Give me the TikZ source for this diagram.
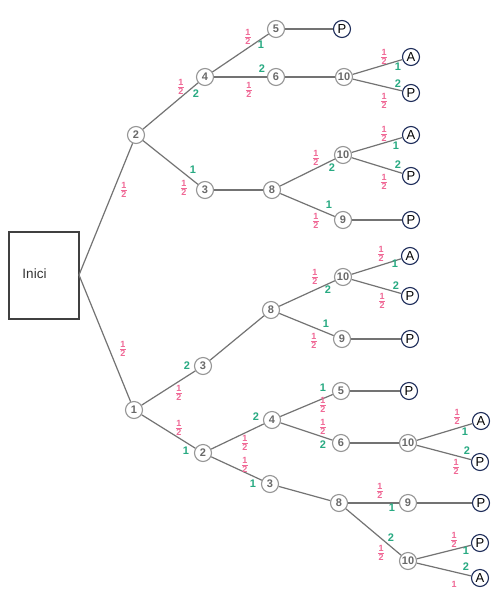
\documentclass[tikz,border=0pt]{standalone}
\usepackage{fontspec}
\setmainfont{Liberation Sans}
\definecolor{pinkc}{RGB}{240,105,150}
\definecolor{greenc}{RGB}{40,170,130}
\definecolor{edgec}{RGB}{115,115,115}
\definecolor{nodec}{RGB}{150,150,150}
\definecolor{numc}{RGB}{105,105,105}
\definecolor{navyc}{RGB}{30,45,90}
\newcommand{\hf}{\vbox{\offinterlineskip\halign{\hfil##\hfil\cr 1\cr\noalign{\kern1.1pt}\rule{5.5pt}{0.8pt}\cr\noalign{\kern1.1pt}2\cr}}}
\begin{document}
\begin{tikzpicture}[x=1pt,y=-1pt,
  st/.style={circle,draw=nodec,line width=1.1pt,fill=white,minimum size=17pt,inner sep=0pt,
    font=\fontsize{11}{11}\selectfont\bfseries,text=numc},
  term/.style={circle,draw=navyc,line width=1.1pt,fill=white,minimum size=17pt,inner sep=0pt,
    font=\fontsize{13}{13}\selectfont,text=black},
  ed/.style={draw=edgec,line width=1.2pt},
  pf/.style={text=pinkc,inner sep=0pt,font=\fontsize{9}{9}\selectfont\bfseries},
  gn/.style={text=greenc,inner sep=0pt,font=\fontsize{11}{11}\selectfont\bfseries}]
\useasboundingbox (0,0) rectangle (503,603);
\fill[white] (0,0) rectangle (503,603);
% start box
\node[draw=black!75,line width=1.2pt,minimum width=70pt,minimum height=87pt,inner sep=0pt] (ini) at (44,275.5) {};
\node[inner sep=0pt,font=\fontsize{13.5}{13.5}\selectfont,text=black!80] (initext) at (34.5,274) {Inici};
\coordinate (o) at (79,275);
% upper tree
\node[st] (u2) at (136,135) {2};
\node[st] (u4) at (205,77) {4};
\node[st] (u5) at (276,29) {5};
\node[st] (u6) at (276,77) {6};
\node[term] (uP1) at (342,29) {P};
\node[st] (u10a) at (344,77) {10};
\node[term] (uA1) at (411,57) {A};
\node[term] (uP2) at (411,93) {P};
\node[st] (u3) at (205,190) {3};
\node[st] (u8) at (272,190) {8};
\node[st] (u10b) at (343,155) {10};
\node[term] (uA2) at (411,135) {A};
\node[term] (uP3) at (411,176) {P};
\node[st] (u9) at (343,220) {9};
\node[term] (uP4) at (411,220) {P};
% lower tree
\node[st] (l1) at (134,410) {1};
\node[st] (l3) at (203,366) {3};
\node[st] (l8) at (271,310) {8};
\node[st] (l10c) at (343,277) {10};
\node[term] (lA1) at (410,256) {A};
\node[term] (lP1) at (410,296) {P};
\node[st] (l9) at (342,339) {9};
\node[term] (lP2) at (410,339) {P};
\node[st] (l2) at (203,453) {2};
\node[st] (l4) at (272,420) {4};
\node[st] (l5) at (341,391) {5};
\node[term] (lP3) at (409,391) {P};
\node[st] (l6) at (341,443) {6};
\node[st] (l10d) at (408,443) {10};
\node[term] (lA2) at (481,421) {A};
\node[term] (lP4) at (480,462) {P};
\node[st] (l3b) at (270,484) {3};
\node[st] (l8b) at (339,503) {8};
\node[st] (l9b) at (408,503) {9};
\node[term] (lP5) at (481,503) {P};
\node[st] (l10e) at (408,561) {10};
\node[term] (lP6) at (480,543) {P};
\node[term] (lA3) at (480,578) {A};
% edges
\draw[ed] (o) -- (u2);
\draw[ed] (o) -- (l1);
\draw[ed] (u2) -- (u4);
\draw[ed] (u4) -- (u5);
\draw[ed] (u4) -- (u6);
\draw[ed] (u5) -- (uP1);
\draw[ed] (u6) -- (u10a);
\draw[ed] (u10a) -- (uA1);
\draw[ed] (u10a) -- (uP2);
\draw[ed] (u2) -- (u3);
\draw[ed] (u3) -- (u8);
\draw[ed] (u8) -- (u10b);
\draw[ed] (u10b) -- (uA2);
\draw[ed] (u10b) -- (uP3);
\draw[ed] (u8) -- (u9);
\draw[ed] (u9) -- (uP4);
\draw[ed] (l1) -- (l3);
\draw[ed] (l3) -- (l8);
\draw[ed] (l8) -- (l10c);
\draw[ed] (l10c) -- (lA1);
\draw[ed] (l10c) -- (lP1);
\draw[ed] (l8) -- (l9);
\draw[ed] (l9) -- (lP2);
\draw[ed] (l1) -- (l2);
\draw[ed] (l2) -- (l4);
\draw[ed] (l4) -- (l5);
\draw[ed] (l5) -- (lP3);
\draw[ed] (l4) -- (l6);
\draw[ed] (l6) -- (l10d);
\draw[ed] (l10d) -- (lA2);
\draw[ed] (l10d) -- (lP4);
\draw[ed] (l2) -- (l3b);
\draw[ed] (l3b) -- (l8b);
\draw[ed] (l8b) -- (l9b);
\draw[ed] (l9b) -- (lP5);
\draw[ed] (l8b) -- (l10e);
\draw[ed] (l10e) -- (lP6);
\draw[ed] (l10e) -- (lA3);
% labels upper
\node[pf] (a1) at (124,190) {\hf};
\node[pf] (a2) at (181,87) {\hf};
\node[gn] (a3) at (196,94) {2};
\node[pf] (a4) at (248,37) {\hf};
\node[gn] (a5) at (261,45) {1};
\node[gn] (a6) at (262,69) {2};
\node[pf] (a7) at (249,90) {\hf};
\node[gn] (a8) at (193,170) {1};
\node[pf] (a9) at (184,188) {\hf};
\node[pf] (a10) at (384,57) {\hf};
\node[gn] (a11) at (398,67) {1};
\node[gn] (a12) at (398,84) {2};
\node[pf] (a13) at (384,101) {\hf};
\node[pf] (a14) at (316,158) {\hf};
\node[gn] (a15) at (332,168) {2};
\node[pf] (a16) at (384,134) {\hf};
\node[gn] (a17) at (396,146) {1};
\node[gn] (a18) at (398,165) {2};
\node[pf] (a19) at (384,182) {\hf};
\node[gn] (a20) at (329,205) {1};
\node[pf] (a21) at (316,221) {\hf};
% labels lower
\node[pf] (b1) at (123,349) {\hf};
\node[pf] (b2) at (315,277) {\hf};
\node[gn] (b3) at (328,290) {2};
\node[pf] (b4) at (381,254) {\hf};
\node[gn] (b5) at (395,264) {1};
\node[gn] (b6) at (396,286) {2};
\node[pf] (b7) at (382,301) {\hf};
\node[gn] (b8) at (326,324) {1};
\node[pf] (b9) at (314,341) {\hf};
\node[gn] (b10) at (187,366) {2};
\node[pf] (b11) at (179,393) {\hf};
\node[pf] (b12) at (179,428) {\hf};
\node[gn] (b13) at (186,451) {1};
\node[gn] (b14) at (256,417) {2};
\node[pf] (b15) at (245,443) {\hf};
\node[pf] (b16) at (245,465) {\hf};
\node[gn] (b17) at (253,484) {1};
\node[gn] (b18) at (323,388) {1};
\node[pf] (b19) at (323,405) {\hf};
\node[pf] (b20) at (323,427) {\hf};
\node[gn] (b21) at (323,445) {2};
\node[pf] (b22) at (457,417) {\hf};
\node[gn] (b23) at (465,432) {1};
\node[gn] (b24) at (467,451) {2};
\node[pf] (b25) at (456,467) {\hf};
\node[pf] (b26) at (380,491) {\hf};
\node[gn] (b27) at (392,508) {1};
\node[gn] (b28) at (391,538) {2};
\node[pf] (b29) at (381,553) {\hf};
\node[pf] (b30) at (454,540) {\hf};
\node[gn] (b31) at (466,551) {1};
\node[gn] (b32) at (466,567) {2};
\begin{scope}
\clip (0,0) rectangle (503,587);
\node[pf] (b33) at (454,589) {\hf};
\end{scope}
\end{tikzpicture}
\end{document}
